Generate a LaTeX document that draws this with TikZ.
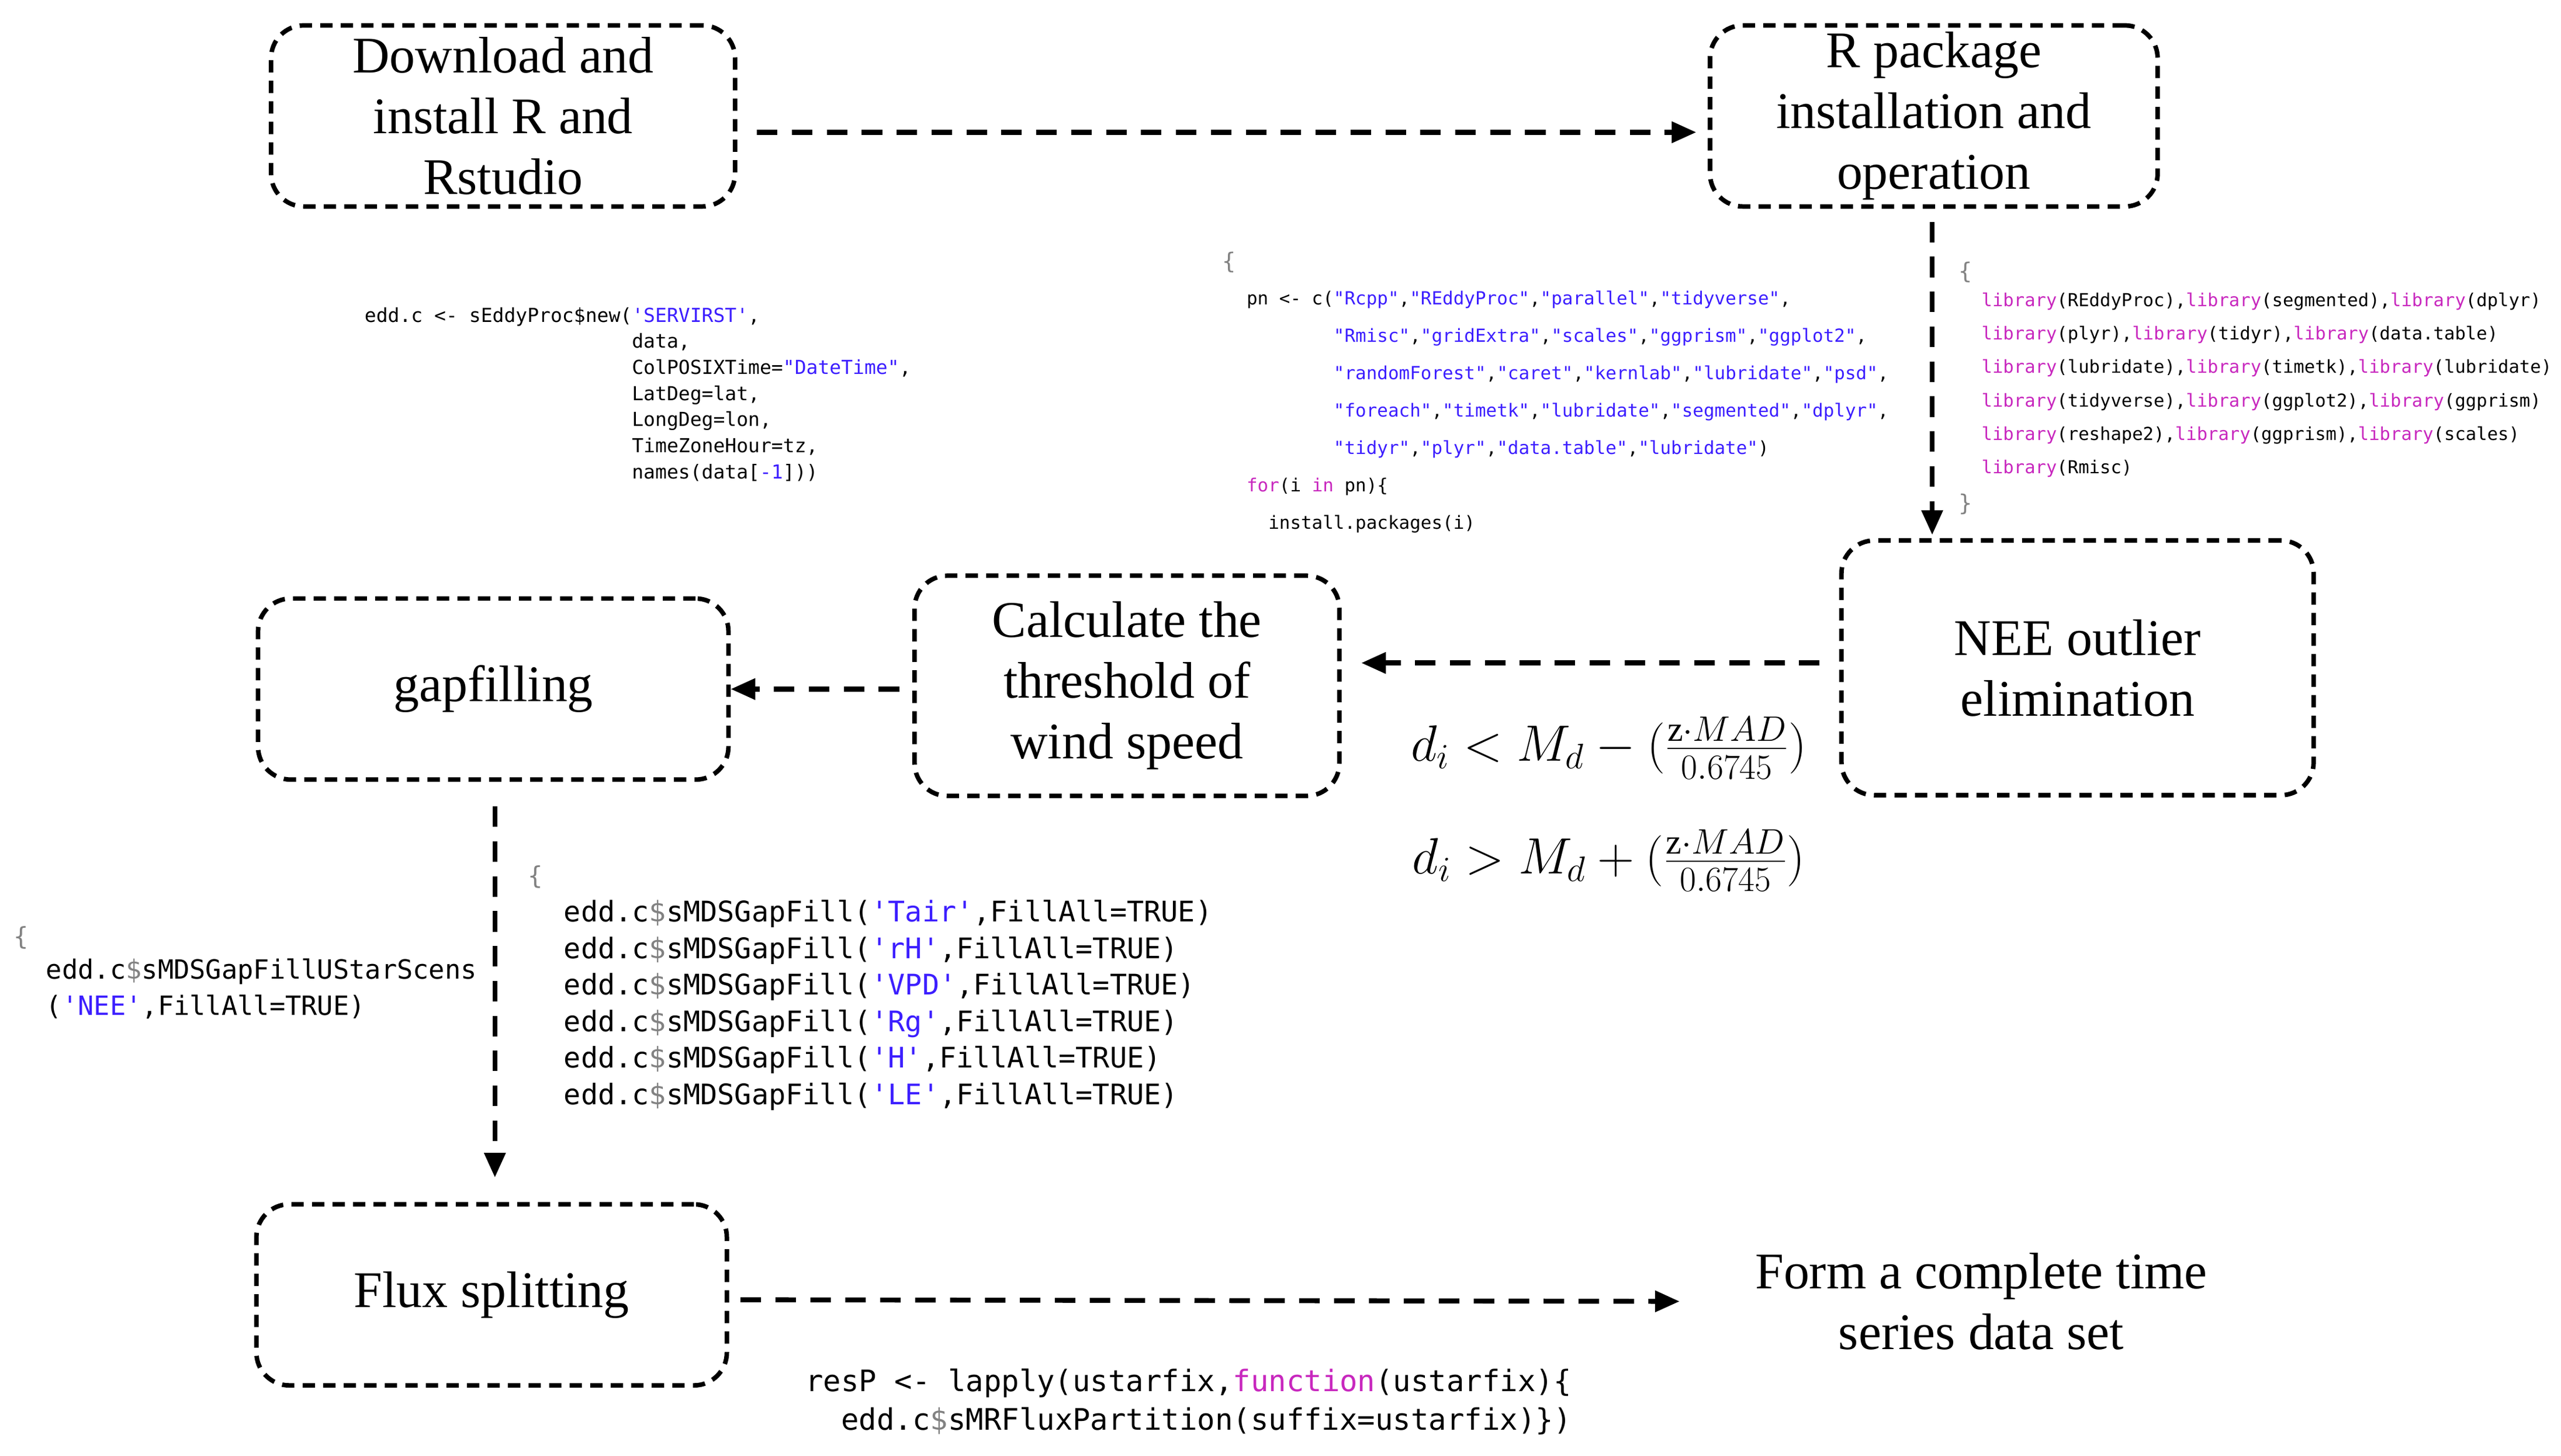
\documentclass[tikz,border=0pt]{standalone}
\usepackage{fontspec}
\setmainfont{Liberation Serif}
\setmonofont{DejaVu Sans Mono}
\usetikzlibrary{arrows.meta,calc}
\definecolor{strc}{RGB}{60,30,255}
\definecolor{kwc}{RGB}{200,40,190}
\definecolor{parc}{RGB}{130,130,130}
\newcommand{\cs}[1]{\textcolor{strc}{#1}}
\newcommand{\ck}[1]{\textcolor{kwc}{#1}}
\newcommand{\cp}[1]{\textcolor{parc}{#1}}
\begin{document}
\begin{tikzpicture}[x=0.2795mm,y=-0.2795mm,
  box/.style={draw,line width=2.2pt,dash pattern=on 6pt off 4pt,rounded corners=16pt,
    align=center,font=\fontsize{25}{29.6}\selectfont,inner sep=0pt},
  arr/.style={line width=2.4pt,dash pattern=on 10pt off 7pt,-{Triangle[length=12pt,width=10pt]}},
  code/.style={anchor=north west,align=left,inner sep=0pt}]
\useasboundingbox (0,0) rectangle (1568,891.6);
\node[box,minimum width=79.4mm,minimum height=31mm] (dl) at (308,71) {Download and\\install R and\\Rstudio};
\node[box,minimum width=76.6mm,minimum height=31mm] (rp) at (1184,71) {R package\\installation and\\operation};
\node[box,minimum width=80.8mm,minimum height=43.6mm] (nee) at (1272,409) {NEE outlier\\elimination};
\node[box,minimum width=72.7mm,minimum height=37.7mm] (calc) at (690,420) {Calculate the\\threshold of\\wind speed};
\node[box,minimum width=80.5mm,minimum height=31mm] (gap) at (302,422) {gapfilling};
\node[box,minimum width=80.5mm,minimum height=31mm] (flux) at (301,793) {Flux splitting};
\node[align=center,font=\fontsize{25}{29.6}\selectfont,inner sep=0pt] (form) at (1213,797) {Form a complete time\\series data set};

\draw[arr] ($(dl.east)+(12,10)$) -- ($(rp.west)+(-7,10)$);
\draw[arr] ($(rp.south)+(-1,8)$) -- ($(rp.south |- nee.north)+(-1,-2)$);
\draw[arr] ($(nee.west)+(-12,-3)$) -- ($(calc.east |- nee.west)+(12,-3)$);
\draw[arr] ($(calc.west)+(-8,2)$) -- ($(gap.east)+(0,0)$);
\draw[arr] ($(gap.south)+(1,15)$) -- ($(flux.north)+(2,-15)$);
\draw[arr] ($(flux.east)+(7,3)$) -- ($(form.west)+(-46,0)$);

\node[font=\fontsize{24.5}{29}\selectfont] (f1) at (985,458) {$d_i < M_d - (\frac{\mathrm{z}\cdot MAD}{0.6745})$};
\node[font=\fontsize{24.5}{29}\selectfont] (f2) at (985,527) {$d_i > M_d + (\frac{\mathrm{z}\cdot MAD}{0.6745})$};

% code blocks
\node[code,font=\ttfamily\fontsize{9.4}{12.7}\selectfont] (c1) at (223,188) {edd.c <- sEddyProc\$new(\cs{'SERVIRST'},\\
\hphantom{edd.c <- sEddyProc\$new(}data,\\
\hphantom{edd.c <- sEddyProc\$new(}ColPOSIXTime=\cs{"DateTime"},\\
\hphantom{edd.c <- sEddyProc\$new(}LatDeg=lat,\\
\hphantom{edd.c <- sEddyProc\$new(}LongDeg=lon,\\
\hphantom{edd.c <- sEddyProc\$new(}TimeZoneHour=tz,\\
\hphantom{edd.c <- sEddyProc\$new(}names(data[\cs{-1}]))};

\node[code,text=parc,font=\ttfamily\fontsize{11}{12}\selectfont] (b1) at (748,154) {\{};
\node[code,font=\ttfamily\fontsize{8.8}{18.2}\selectfont] (c2) at (763,178) {pn <- c(\cs{"Rcpp"},\cs{"REddyProc"},\cs{"parallel"},\cs{"tidyverse"},\\
\hphantom{pn <- c(}\cs{"Rmisc"},\cs{"gridExtra"},\cs{"scales"},\cs{"ggprism"},\cs{"ggplot2"},\\
\hphantom{pn <- c(}\cs{"randomForest"},\cs{"caret"},\cs{"kernlab"},\cs{"lubridate"},\cs{"psd"},\\
\hphantom{pn <- c(}\cs{"foreach"},\cs{"timetk"},\cs{"lubridate"},\cs{"segmented"},\cs{"dplyr"},\\
\hphantom{pn <- c(}\cs{"tidyr"},\cs{"plyr"},\cs{"data.table"},\cs{"lubridate"})\\
\ck{for}(i \ck{in} pn)\{\\
\hphantom{pn}install.packages(i)};

\node[code,text=parc,font=\ttfamily\fontsize{11}{12}\selectfont] (b2) at (1199,160) {\{};
\node[code,font=\ttfamily\fontsize{8.7}{16.3}\selectfont] (c3) at (1213,179) {\ck{library}(REddyProc),\ck{library}(segmented),\ck{library}(dplyr)\\
\ck{library}(plyr),\ck{library}(tidyr),\ck{library}(data.table)\\
\ck{library}(lubridate),\ck{library}(timetk),\ck{library}(lubridate)\\
\ck{library}(tidyverse),\ck{library}(ggplot2),\ck{library}(ggprism)\\
\ck{library}(reshape2),\ck{library}(ggprism),\ck{library}(scales)\\
\ck{library}(Rmisc)};
\node[code,text=parc,font=\ttfamily\fontsize{11}{12}\selectfont] (b3) at (1199,302) {\}};

\node[code,text=parc,font=\ttfamily\fontsize{12}{12}\selectfont] (b4) at (323,530) {\{};
\node[code,font=\ttfamily\fontsize{13.8}{17.8}\selectfont] (c4) at (345,551) {edd.c\cp{\$}sMDSGapFill(\cs{'Tair'},FillAll=TRUE)\\
edd.c\cp{\$}sMDSGapFill(\cs{'rH'},FillAll=TRUE)\\
edd.c\cp{\$}sMDSGapFill(\cs{'VPD'},FillAll=TRUE)\\
edd.c\cp{\$}sMDSGapFill(\cs{'Rg'},FillAll=TRUE)\\
edd.c\cp{\$}sMDSGapFill(\cs{'H'},FillAll=TRUE)\\
edd.c\cp{\$}sMDSGapFill(\cs{'LE'},FillAll=TRUE)};

\node[code,text=parc,font=\ttfamily\fontsize{12}{12}\selectfont] (b5) at (8,567) {\{};
\node[code,font=\ttfamily\fontsize{12.9}{17.4}\selectfont] (c5) at (28,587) {edd.c\cp{\$}sMDSGapFillUStarScens\\
(\cs{'NEE'},FillAll=TRUE)};

\node[code,font=\ttfamily\fontsize{14.4}{18.8}\selectfont] (c6) at (493,838) {resP <- lapply(ustarfix,\ck{function}(ustarfix)\{\\
\hphantom{re}edd.c\cp{\$}sMRFluxPartition(suffix=ustarfix)\})};
\end{tikzpicture}
\end{document}
